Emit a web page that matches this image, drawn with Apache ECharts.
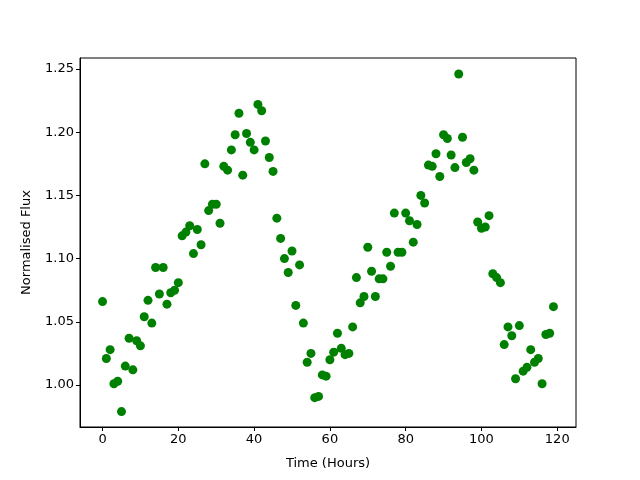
<!DOCTYPE html>
<html>
<head>
<meta charset="utf-8">
<script src="https://cdn.jsdelivr.net/npm/echarts@6.0.0/dist/echarts.min.js"></script>
<style>
html, body { margin: 0; padding: 0; background: #fff; }
#main { width: 640px; height: 480px; }
</style>
</head>
<body>
<div id="main"></div>
<script>
// hourly samples
const hours = [];
for (let h = 0; h < 120; h++) hours.push(h);
const flux = [
	1.066, 1.021, 1.028, 1.001, 1.003, 0.979, 1.015, 1.037, 1.012, 1.035,
	1.031, 1.054, 1.067, 1.049, 1.093, 1.072, 1.093, 1.064, 1.073, 1.075,
	1.081, 1.118, 1.121, 1.126, 1.104, 1.123, 1.111, 1.175, 1.138, 1.143,
	1.143, 1.128, 1.173, 1.170, 1.186, 1.198, 1.215, 1.166, 1.199, 1.192,
	1.186, 1.222, 1.217, 1.193, 1.180, 1.169, 1.132, 1.116, 1.100, 1.089,
	1.106, 1.063, 1.095, 1.049, 1.018, 1.025, 0.990, 0.991, 1.008, 1.007,
	1.020, 1.026, 1.041, 1.029, 1.024, 1.025, 1.046, 1.085, 1.065, 1.070,
	1.109, 1.090, 1.070, 1.084, 1.084, 1.105, 1.094, 1.136, 1.105, 1.105,
	1.136, 1.130, 1.113, 1.127, 1.150, 1.144, 1.174, 1.173, 1.183, 1.165,
	1.198, 1.195, 1.182, 1.172, 1.246, 1.196, 1.176, 1.179, 1.170, 1.129,
	1.124, 1.125, 1.134, 1.088, 1.085, 1.081, 1.032, 1.046, 1.039, 1.005,
	1.047, 1.011, 1.014, 1.028, 1.018, 1.021, 1.001, 1.040, 1.041, 1.062
];
const xTicks = [0, 20, 40, 60, 80, 100, 120];
const yTicks = [1.00, 1.05, 1.10, 1.15, 1.20, 1.25];

const font = 'DejaVu Sans';
const chart = echarts.init(document.getElementById('main'), null, { renderer: 'canvas' });
chart.setOption({
	animation: false,
	backgroundColor: '#fff',
	grid: {
		left: 80, right: 64, top: 58, bottom: 53,
		show: true, borderColor: '#000', borderWidth: 1,
	},
	xAxis: {
		type: 'value',
		min: -5.95,
		max: 124.95,
		name: 'Time (Hours)',
		nameLocation: 'middle',
		nameGap: 30,
		nameTextStyle: { fontFamily: font, fontSize: 13, color: '#000' },
		splitLine: { show: false },
		axisLine: { show: true, onZero: false, lineStyle: { color: '#000' } },
		axisTick: { show: true, inside: false, length: 4, lineStyle: { color: '#000' }, customValues: xTicks },
		axisLabel: { fontFamily: font, fontSize: 13, color: '#000', margin: 6, customValues: xTicks },
	},
	yAxis: {
		type: 'value',
		min: 0.9668,
		max: 1.2587,
		name: 'Normalised Flux',
		nameLocation: 'middle',
		nameGap: 47,
		nameTextStyle: { fontFamily: font, fontSize: 13, color: '#000' },
		splitLine: { show: false },
		axisLine: { show: true, onZero: false, lineStyle: { color: '#000' } },
		axisTick: { show: true, inside: false, length: 4, lineStyle: { color: '#000' }, customValues: yTicks },
		axisLabel: {
			fontFamily: font, fontSize: 13, color: '#000', margin: 6,
			customValues: yTicks,
			formatter: v => v.toFixed(2),
		},
	},
	series: [{
		type: 'scatter',
		symbolSize: 9,
		itemStyle: { color: '#008000', opacity: 1 },
		data: hours.map((h, i) => [h, flux[i]]),
	}],
});
</script>
</body>
</html>
